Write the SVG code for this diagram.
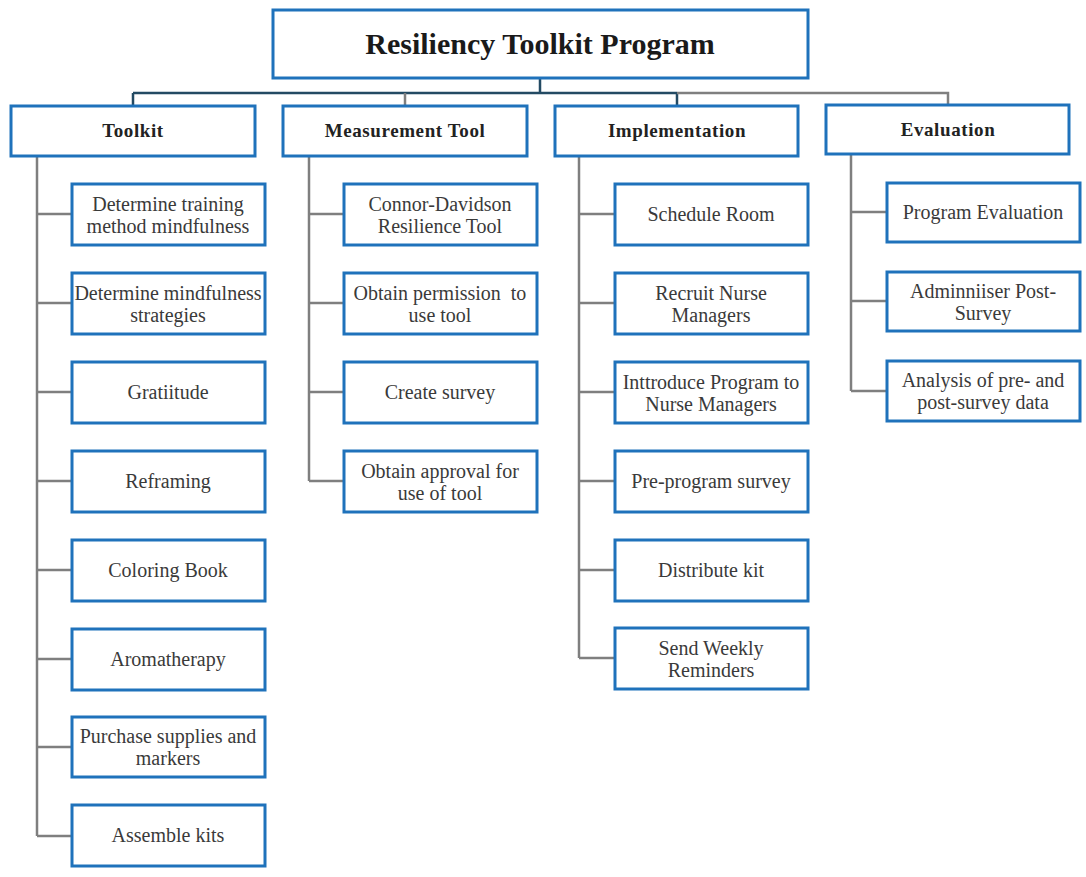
<svg xmlns="http://www.w3.org/2000/svg" width="1086" height="877" viewBox="0 0 1086 877">
<style>
.box{fill:#fff;stroke:#1f72bb;stroke-width:3}
.t{font-family:"Liberation Serif",serif;font-size:20px;fill:#3a3a3a;text-anchor:middle}
.h{font-family:"Liberation Serif",serif;font-size:19px;font-weight:bold;fill:#222;text-anchor:middle;letter-spacing:0.6px}
.title{font-family:"Liberation Serif",serif;font-size:30px;font-weight:bold;fill:#1a1a1a;text-anchor:middle}
.c{fill:none;stroke:#7f7f7f;stroke-width:2.5}
.cd{fill:none;stroke:#234a63;stroke-width:2.5}
</style>
<rect width="1086" height="877" fill="#fff"/>
<g id="connectors">
<path class="cd" d="M540 78V93M133 93H677M133 93V106M677 93V106"/>
<path class="c" d="M677 93H948V106M405 93V106"/>
<path class="c" d="M37 156V836M37 214H72M37 303H72M37 392H72M37 481H72M37 570H72M37 659H72M37 747H72M37 836H72"/>
<path class="c" d="M309 156V481M309 214H344M309 303H344M309 392H344M309 481H344"/>
<path class="c" d="M579 156V658M579 214H615M579 303H615M579 392H615M579 481H615M579 570H615M579 658H615"/>
<path class="c" d="M851 154V391M851 212H887M851 301H887M851 391H887"/>
</g>
<g id="root"><rect class="box" x="273" y="10" width="535" height="68"/><text class="title" x="540" y="54">Resiliency Toolkit Program</text></g>
<g id="toolkit"><rect class="box" x="11" y="106" width="244" height="50"/><text class="h" x="133" y="137">Toolkit</text></g>
<g id="measurement"><rect class="box" x="283" y="106" width="244" height="50"/><text class="h" x="405" y="137">Measurement Tool</text></g>
<g id="implementation"><rect class="box" x="555" y="106" width="243" height="50"/><text class="h" x="677" y="137">Implementation</text></g>
<g id="evaluation"><rect class="box" x="826" y="105" width="243" height="49"/><text class="h" x="948" y="136">Evaluation</text></g>

<g id="tk1"><rect class="box" x="72" y="184" width="193" height="61"/><text class="t" x="168" y="211">Determine training</text><text class="t" x="168" y="233">method mindfulness</text></g>
<g id="tk2"><rect class="box" x="72" y="273" width="193" height="61"/><text class="t" x="168" y="300">Determine mindfulness</text><text class="t" x="168" y="322">strategies</text></g>
<g id="tk3"><rect class="box" x="72" y="362" width="193" height="61"/><text class="t" x="168" y="399">Gratiitude</text></g>
<g id="tk4"><rect class="box" x="72" y="451" width="193" height="61"/><text class="t" x="168" y="488">Reframing</text></g>
<g id="tk5"><rect class="box" x="72" y="540" width="193" height="61"/><text class="t" x="168" y="577">Coloring Book</text></g>
<g id="tk6"><rect class="box" x="72" y="629" width="193" height="61"/><text class="t" x="168" y="666">Aromatherapy</text></g>
<g id="tk7"><rect class="box" x="72" y="717" width="193" height="60"/><text class="t" x="168" y="743">Purchase supplies and</text><text class="t" x="168" y="765">markers</text></g>
<g id="tk8"><rect class="box" x="72" y="805" width="193" height="61"/><text class="t" x="168" y="842">Assemble kits</text></g>

<g id="mt1"><rect class="box" x="344" y="184" width="193" height="61"/><text class="t" x="440" y="211">Connor-Davidson</text><text class="t" x="440" y="233">Resilience Tool</text></g>
<g id="mt2"><rect class="box" x="344" y="273" width="193" height="61"/><text class="t" x="440" y="300" xml:space="preserve">Obtain permission  to</text><text class="t" x="440" y="322">use tool</text></g>
<g id="mt3"><rect class="box" x="344" y="362" width="193" height="61"/><text class="t" x="440" y="399">Create survey</text></g>
<g id="mt4"><rect class="box" x="344" y="451" width="193" height="61"/><text class="t" x="440" y="478">Obtain approval for</text><text class="t" x="440" y="500">use of tool</text></g>

<g id="im1"><rect class="box" x="615" y="184" width="193" height="61"/><text class="t" x="711" y="221">Schedule Room</text></g>
<g id="im2"><rect class="box" x="615" y="273" width="193" height="61"/><text class="t" x="711" y="300">Recruit Nurse</text><text class="t" x="711" y="322">Managers</text></g>
<g id="im3"><rect class="box" x="615" y="362" width="193" height="61"/><text class="t" x="711" y="389">Inttroduce Program to</text><text class="t" x="711" y="411">Nurse Managers</text></g>
<g id="im4"><rect class="box" x="615" y="451" width="193" height="61"/><text class="t" x="711" y="488">Pre-program survey</text></g>
<g id="im5"><rect class="box" x="615" y="540" width="193" height="61"/><text class="t" x="711" y="577">Distribute kit</text></g>
<g id="im6"><rect class="box" x="615" y="628" width="193" height="61"/><text class="t" x="711" y="655">Send Weekly</text><text class="t" x="711" y="677">Reminders</text></g>

<g id="ev1"><rect class="box" x="887" y="183" width="193" height="59"/><text class="t" x="983" y="219">Program Evaluation</text></g>
<g id="ev2"><rect class="box" x="887" y="272" width="193" height="59"/><text class="t" x="983" y="298">Adminniiser Post-</text><text class="t" x="983" y="320">Survey</text></g>
<g id="ev3"><rect class="box" x="887" y="361" width="193" height="60"/><text class="t" x="983" y="387">Analysis of pre- and</text><text class="t" x="983" y="409">post-survey data</text></g>
</svg>
